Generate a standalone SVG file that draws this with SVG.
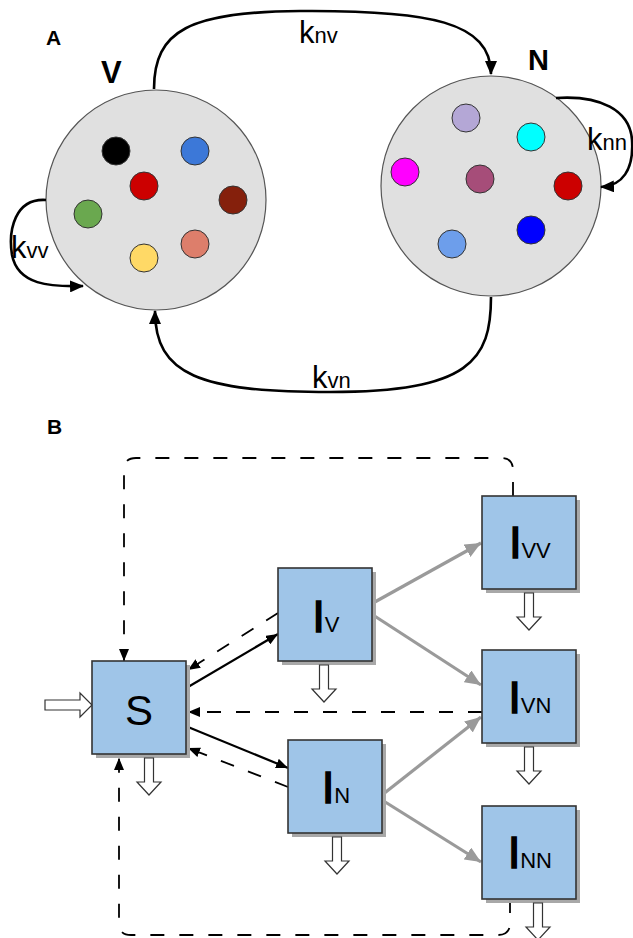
<svg xmlns="http://www.w3.org/2000/svg" width="633" height="938" viewBox="0 0 633 938">
<defs>
<style>
text{font-family:"Liberation Sans",Arial,sans-serif;fill:#000}
.big{font-weight:bold}
.k{font-size:31px}
.ks{font-size:22px}
.pool{fill:#e0e0e0;stroke:#555;stroke-width:1.2}
.dot{stroke:#333;stroke-width:1}
.arcA{fill:none;stroke:#000;stroke-width:2.6}
.box{fill:#9fc5e8;stroke:#333;stroke-width:1.6}
.shadow{fill:#a8a8a8}
.cap{font-size:44px;text-anchor:middle}
.capI{stroke:#000;stroke-width:1.6}
.sub{font-size:22px}
.solid{fill:none;stroke:#000;stroke-width:2.2}
.dash{fill:none;stroke:#000;stroke-width:1.8;stroke-dasharray:14 15}
.gray{fill:none;stroke:#9a9a9a;stroke-width:3.2}
.hollow{fill:#fff;stroke:#333;stroke-width:1.2}
</style>
<marker id="ahA" viewBox="0 0 14 12" refX="13" refY="6" markerWidth="14" markerHeight="12" markerUnits="userSpaceOnUse" orient="auto"><path d="M0,0 L14,6 L0,12 z" fill="#000"/></marker>
<marker id="ahB" viewBox="0 0 12 10" refX="12" refY="5" markerWidth="12" markerHeight="10" markerUnits="userSpaceOnUse" orient="auto"><path d="M0,0 L12,5 L0,10 z" fill="#000"/></marker>
<marker id="ahG" viewBox="0 0 16 14" refX="16" refY="7" markerWidth="16" markerHeight="14" markerUnits="userSpaceOnUse" orient="auto"><path d="M0,0 L16,7 L0,14 z" fill="#9a9a9a"/></marker>
<polygon id="down" points="-4.5,0 4.5,0 4.5,24 12,24 0,37 -12,24 -4.5,24"/>
</defs>
<rect width="633" height="938" fill="#fff"/>

<!-- Panel A -->
<text x="46" y="45" class="big" style="font-size:21px">A</text>

<g id="poolV">
<circle cx="156" cy="200" r="110" class="pool"/>
<text x="101" y="83" class="big" style="font-size:31px">V</text>
<circle cx="116" cy="151" r="14" class="dot" fill="#000"/>
<circle cx="195" cy="151" r="14" class="dot" fill="#3c78d8"/>
<circle cx="144" cy="186" r="14" class="dot" fill="#cc0000"/>
<circle cx="233" cy="200" r="14" class="dot" fill="#85200c"/>
<circle cx="88" cy="214" r="14" class="dot" fill="#6aa84f"/>
<circle cx="195" cy="244" r="14" class="dot" fill="#dd7e6b"/>
<circle cx="144" cy="258" r="14" class="dot" fill="#ffd966"/>
</g>

<g id="poolN">
<circle cx="491" cy="186" r="110" class="pool"/>
<text x="528" y="70" class="big" style="font-size:29px">N</text>
<circle cx="466" cy="118" r="14" class="dot" fill="#b4a7d6"/>
<circle cx="531" cy="137" r="14" class="dot" fill="#00ffff"/>
<circle cx="405" cy="172" r="14" class="dot" fill="#ff00ff"/>
<circle cx="480" cy="179" r="14" class="dot" fill="#a64d79"/>
<circle cx="568" cy="186" r="14" class="dot" fill="#cc0000"/>
<circle cx="531" cy="230" r="14" class="dot" fill="#0000ff"/>
<circle cx="452" cy="244" r="14" class="dot" fill="#6d9eeb"/>
</g>

<g id="connectorsA">
<path d="M154,89 C154,30 190,12 300,11 C430,10 491,22 491,74" class="arcA" marker-end="url(#ahA)"/>
<path d="M491,297 C491,360 470,392 330,392 C200,392 155,375 155,311" class="arcA" marker-end="url(#ahA)"/>
<path d="M46,200 C15,198 8,230 12,255 C18,285 50,287 83,286" class="arcA" marker-end="url(#ahA)"/>
<path d="M556,98 C600,95 630,110 632,140 C634,170 622,186 601,187" class="arcA" marker-end="url(#ahA)"/>
<text x="299" y="43" class="k">k<tspan class="ks">nv</tspan></text>
<text x="312" y="388" class="k">k<tspan class="ks">vn</tspan></text>
<text x="11" y="258" class="k">k<tspan class="ks">vv</tspan></text>
<text x="587" y="150" class="k">k<tspan class="ks">nn</tspan></text>
</g>

<!-- Panel B -->
<text x="47" y="434" class="big" style="font-size:21px">B</text>

<g id="connectorsB">
<path d="M513,496 L513,470 Q513,458 501,458 L136,458 Q124,458 124,470 L124,661" class="dash" marker-end="url(#ahB)"/>
<path d="M510,899 L510,923 Q510,935 498,935 L131,935 Q119,935 119,923 L119,758" class="dash" marker-end="url(#ahB)"/>
<path d="M482,712 L188,712" class="dash" marker-end="url(#ahB)"/>
<path d="M278,613 L188,670" class="dash" marker-end="url(#ahB)"/>
<path d="M288,787 L188,748" class="dash" marker-end="url(#ahB)"/>
<path d="M188,687 L278,634" class="solid" marker-end="url(#ahB)"/>
<path d="M188,727 L288,768" class="solid" marker-end="url(#ahB)"/>
<path d="M373,603 L481,543" class="gray" marker-end="url(#ahG)"/>
<path d="M373,615 L481,685" class="gray" marker-end="url(#ahG)"/>
<path d="M382,795 L481,717" class="gray" marker-end="url(#ahG)"/>
<path d="M382,800 L481,862" class="gray" marker-end="url(#ahG)"/>
<polygon points="45,700 80,700 80,693 92,705 80,717 80,710 45,710" class="hollow"/>
</g>

<g id="S">
<rect x="96" y="665" width="94" height="93" class="shadow"/>
<rect x="92" y="661" width="94" height="93" class="box"/>
<text x="139" y="725" class="cap" style="font-size:42px">S</text>
<use href="#down" x="149" y="758" class="hollow"/>
</g>

<g id="IV">
<rect x="282" y="572" width="94" height="93" class="shadow"/>
<rect x="278" y="568" width="94" height="93" class="box"/>
<text x="326" y="632" class="cap"><tspan class="capI">I</tspan><tspan class="sub">V</tspan></text>
<use href="#down" x="324" y="665" class="hollow"/>
</g>

<g id="IN">
<rect x="292" y="744" width="94" height="93" class="shadow"/>
<rect x="288" y="740" width="94" height="93" class="box"/>
<text x="336" y="803" class="cap"><tspan class="capI">I</tspan><tspan class="sub">N</tspan></text>
<use href="#down" x="337" y="837" class="hollow"/>
</g>

<g id="IVV">
<rect x="486" y="500" width="94" height="93" class="shadow"/>
<rect x="482" y="496" width="94" height="93" class="box"/>
<text x="530" y="558" class="cap"><tspan class="capI">I</tspan><tspan class="sub">VV</tspan></text>
<use href="#down" x="529" y="593" class="hollow"/>
</g>

<g id="IVN">
<rect x="486" y="654" width="94" height="93" class="shadow"/>
<rect x="482" y="650" width="94" height="93" class="box"/>
<text x="530" y="713" class="cap"><tspan class="capI">I</tspan><tspan class="sub">VN</tspan></text>
<use href="#down" x="529" y="747" class="hollow"/>
</g>

<g id="INN">
<rect x="486" y="810" width="94" height="93" class="shadow"/>
<rect x="482" y="806" width="94" height="93" class="box"/>
<text x="530" y="868" class="cap"><tspan class="capI">I</tspan><tspan class="sub">NN</tspan></text>
<use href="#down" x="538" y="903" class="hollow"/>
</g>
</svg>
